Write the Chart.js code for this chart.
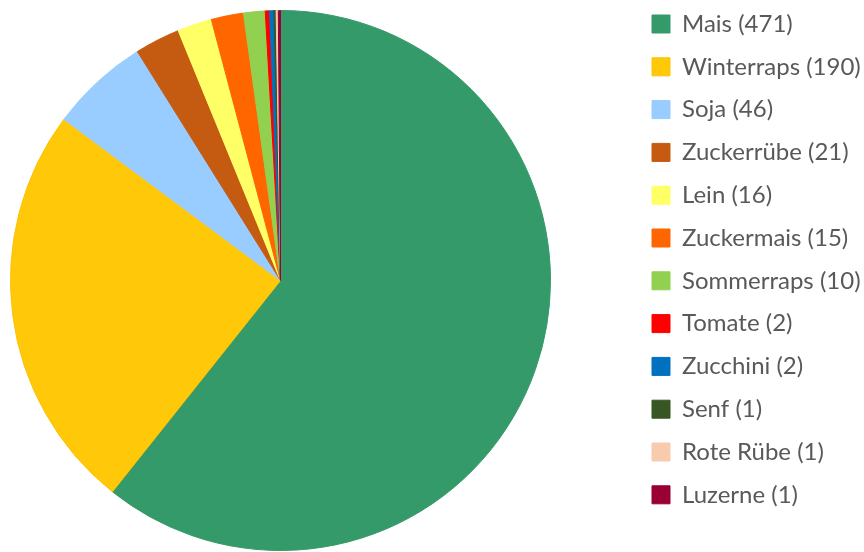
<!DOCTYPE html>
<html>
<head>
<meta charset="utf-8">
<script src="https://cdn.jsdelivr.net/npm/chart.js@4"></script>
<style>
  html, body { margin: 0; padding: 0; background: #fff; }
  #wrap { width: 864px; height: 552px; }
</style>
</head>
<body>
<div id="wrap"><canvas id="pieChart" width="864" height="552"></canvas></div>
<script>
const crops = ['Mais', 'Winterraps', 'Soja', 'Zuckerrübe', 'Lein', 'Zuckermais', 'Sommerraps', 'Tomate', 'Zucchini', 'Senf', 'Rote Rübe', 'Luzerne'];
const counts = [471, 190, 46, 21, 16, 15, 10, 2, 2, 1, 1, 1];
const colors = ['#359A6A', '#FFC90A', '#99CCFF', '#C55A11', '#FFFF66', '#FF6600', '#92D050', '#FF0000', '#0070C0', '#375623', '#F8CBAD', '#990033'];
const edges = ['#359A6A', '#FFC000', '#99CCFF', '#C55A11', '#FFFF66', '#FF6600', '#92D050', '#FF0000', '#0070C0', '#375623', '#F8CBAD', '#990033'];

const labels = crops.map((c, i) => `${c} (${counts[i]})`);

// pie sits left, legend block on the right like the Excel original
const placeBoxes = {
    id: 'placeBoxes',
    afterLayout(chart) {
        chart.chartArea = { left: 10, top: 10, right: 551, bottom: 551, width: 541, height: 541 };
        const lg = chart.legend;
        const pad = lg.options.labels.padding;
        const w = lg.width, h = lg.height;
        lg.left = 652 - pad;
        lg.right = lg.left + w;
        lg.top = 24 - 12 - pad;
        lg.bottom = lg.top + h;
    }
};

const ctx = document.getElementById('pieChart').getContext('2d');
const myChart = new Chart(ctx, {
    type: 'pie',
    data: {
        labels: labels,
        datasets: [{
            data: counts,
            backgroundColor: colors,
            borderColor: edges,
            borderWidth: 1,
            radius: 270
        }]
    },
    plugins: [placeBoxes],
    options: {
        responsive: false,
        animation: false,
        plugins: {
            tooltip: { enabled: false },
            legend: {
                position: 'right',
                align: 'start',
                labels: {
                    boxWidth: 18,
                    boxHeight: 18,
                    padding: 18.8,
                    color: '#595959',
                    font: { family: 'Lato', size: 24 }
                }
            }
        }
    }
});
</script>
</body>
</html>
